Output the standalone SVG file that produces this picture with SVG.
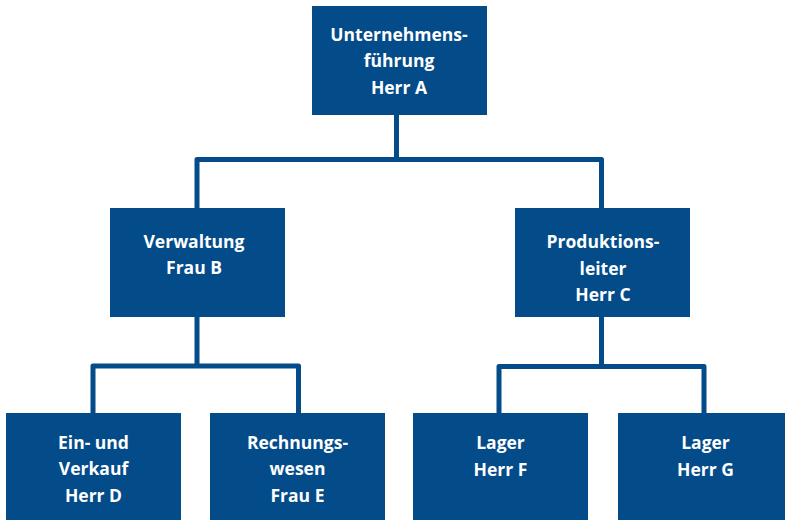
<svg xmlns="http://www.w3.org/2000/svg" width="785" height="520" viewBox="0 0 785 520">
<style>
.box{fill:#034b89}
.t{fill:#ffffff;font-family:"Open Sans","Noto Sans","Liberation Sans",sans-serif;font-weight:bold;font-size:17.5px;text-anchor:middle}
.c{fill:none;stroke:#034b89;stroke-width:5;stroke-linejoin:round}
</style>
<rect width="785" height="520" fill="#ffffff"/>
<g id="connectors">
<path class="c" d="M396.5,115 V159.5 M197,208 V159.5 H601.5 V208"/>
<path class="c" d="M197,317 V366 M93,413 V366 H298.5 V413"/>
<path class="c" d="M601.5,317 V366.5 M499,413 V366.5 H704 V413"/>
</g>
<g id="node-a">
<rect class="box" x="312" y="6" width="175" height="109"/>
<text class="t" x="399" y="40.7">Unternehmens-</text>
<text class="t" x="399" y="67.2">führung</text>
<text class="t" x="399" y="93.7">Herr A</text>
</g>
<g id="node-b">
<rect class="box" x="110" y="208" width="175" height="109"/>
<text class="t" x="194" y="247.5">Verwaltung</text>
<text class="t" x="194" y="274">Frau B</text>
</g>
<g id="node-c">
<rect class="box" x="515" y="208" width="175" height="109"/>
<text class="t" x="603" y="248">Produktions-</text>
<text class="t" x="603" y="274.5">leiter</text>
<text class="t" x="603" y="301">Herr C</text>
</g>
<g id="node-d">
<rect class="box" x="6" y="413" width="175" height="109"/>
<text class="t" x="93.5" y="448.5">Ein- und</text>
<text class="t" x="93.5" y="475">Verkauf</text>
<text class="t" x="93.5" y="501.5">Herr D</text>
</g>
<g id="node-e">
<rect class="box" x="210" y="413" width="175" height="109"/>
<text class="t" x="297.5" y="448.5">Rechnungs-</text>
<text class="t" x="297.5" y="475">wesen</text>
<text class="t" x="297.5" y="501.5">Frau E</text>
</g>
<g id="node-f">
<rect class="box" x="413" y="413" width="175" height="109"/>
<text class="t" x="500.5" y="449">Lager</text>
<text class="t" x="500.5" y="476">Herr F</text>
</g>
<g id="node-g">
<rect class="box" x="618" y="413" width="175" height="109"/>
<text class="t" x="705.5" y="449">Lager</text>
<text class="t" x="705.5" y="476">Herr G</text>
</g>
</svg>
